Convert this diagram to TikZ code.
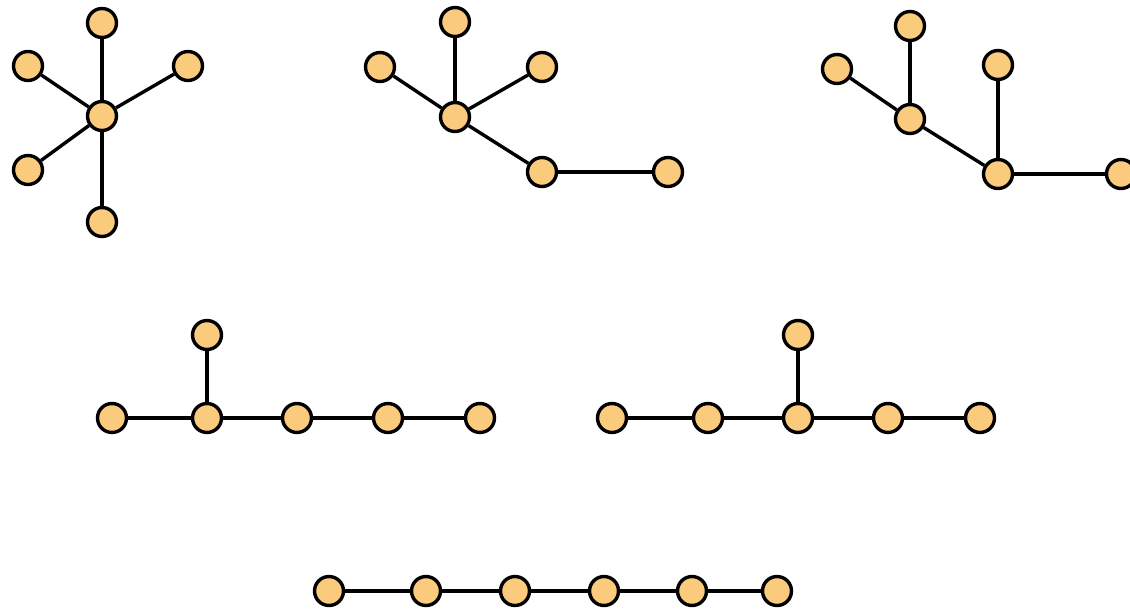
\documentclass[tikz,border=0pt]{standalone}
\definecolor{vtxfill}{HTML}{FBCB7D}
\begin{document}
\begin{tikzpicture}[x=1pt,y=-1pt,
  vtx/.style={circle, draw=black, fill=vtxfill, line width=3.4pt, inner sep=0pt, minimum size=29pt},
  edge/.style={line width=3.4pt}]
\useasboundingbox (0,0) rectangle (1130,609);
% star
\node[vtx] (a0) at (102,116) {};
\node[vtx] (a1) at (102,23) {};
\node[vtx] (a2) at (28,66) {};
\node[vtx] (a3) at (188,66) {};
\node[vtx] (a4) at (28,170) {};
\node[vtx] (a5) at (102,222) {};
\draw[edge] (a0) -- (a1);
\draw[edge] (a0) -- (a2);
\draw[edge] (a0) -- (a3);
\draw[edge] (a0) -- (a4);
\draw[edge] (a0) -- (a5);
% second tree
\node[vtx] (b0) at (455,117) {};
\node[vtx] (b1) at (455,22) {};
\node[vtx] (b2) at (380,67) {};
\node[vtx] (b3) at (542,67) {};
\node[vtx] (b4) at (542,172) {};
\node[vtx] (b5) at (668,172) {};
\draw[edge] (b0) -- (b1);
\draw[edge] (b0) -- (b2);
\draw[edge] (b0) -- (b3);
\draw[edge] (b0) -- (b4);
\draw[edge] (b4) -- (b5);
% third tree
\node[vtx] (c0) at (910,119) {};
\node[vtx] (c1) at (910,26) {};
\node[vtx] (c2) at (837,69) {};
\node[vtx] (c3) at (998,174) {};
\node[vtx] (c4) at (998,65) {};
\node[vtx] (c5) at (1121,174) {};
\draw[edge] (c0) -- (c1);
\draw[edge] (c0) -- (c2);
\draw[edge] (c0) -- (c3);
\draw[edge] (c3) -- (c4);
\draw[edge] (c3) -- (c5);
% fourth tree
\node[vtx] (d0) at (112,418) {};
\node[vtx] (d1) at (207,418) {};
\node[vtx] (d2) at (297,418) {};
\node[vtx] (d3) at (388,418) {};
\node[vtx] (d4) at (480,418) {};
\node[vtx] (d5) at (207,335) {};
\draw[edge] (d0) -- (d1) -- (d2) -- (d3) -- (d4);
\draw[edge] (d1) -- (d5);
% fifth tree
\node[vtx] (e0) at (612,418) {};
\node[vtx] (e1) at (708,418) {};
\node[vtx] (e2) at (798,418) {};
\node[vtx] (e3) at (888,418) {};
\node[vtx] (e4) at (980,418) {};
\node[vtx] (e5) at (798,335) {};
\draw[edge] (e0) -- (e1) -- (e2) -- (e3) -- (e4);
\draw[edge] (e2) -- (e5);
% path
\node[vtx] (f0) at (329,591) {};
\node[vtx] (f1) at (426,591) {};
\node[vtx] (f2) at (515,591) {};
\node[vtx] (f3) at (604,591) {};
\node[vtx] (f4) at (692,591) {};
\node[vtx] (f5) at (777,591) {};
\draw[edge] (f0) -- (f1) -- (f2) -- (f3) -- (f4) -- (f5);
\end{tikzpicture}
\end{document}
